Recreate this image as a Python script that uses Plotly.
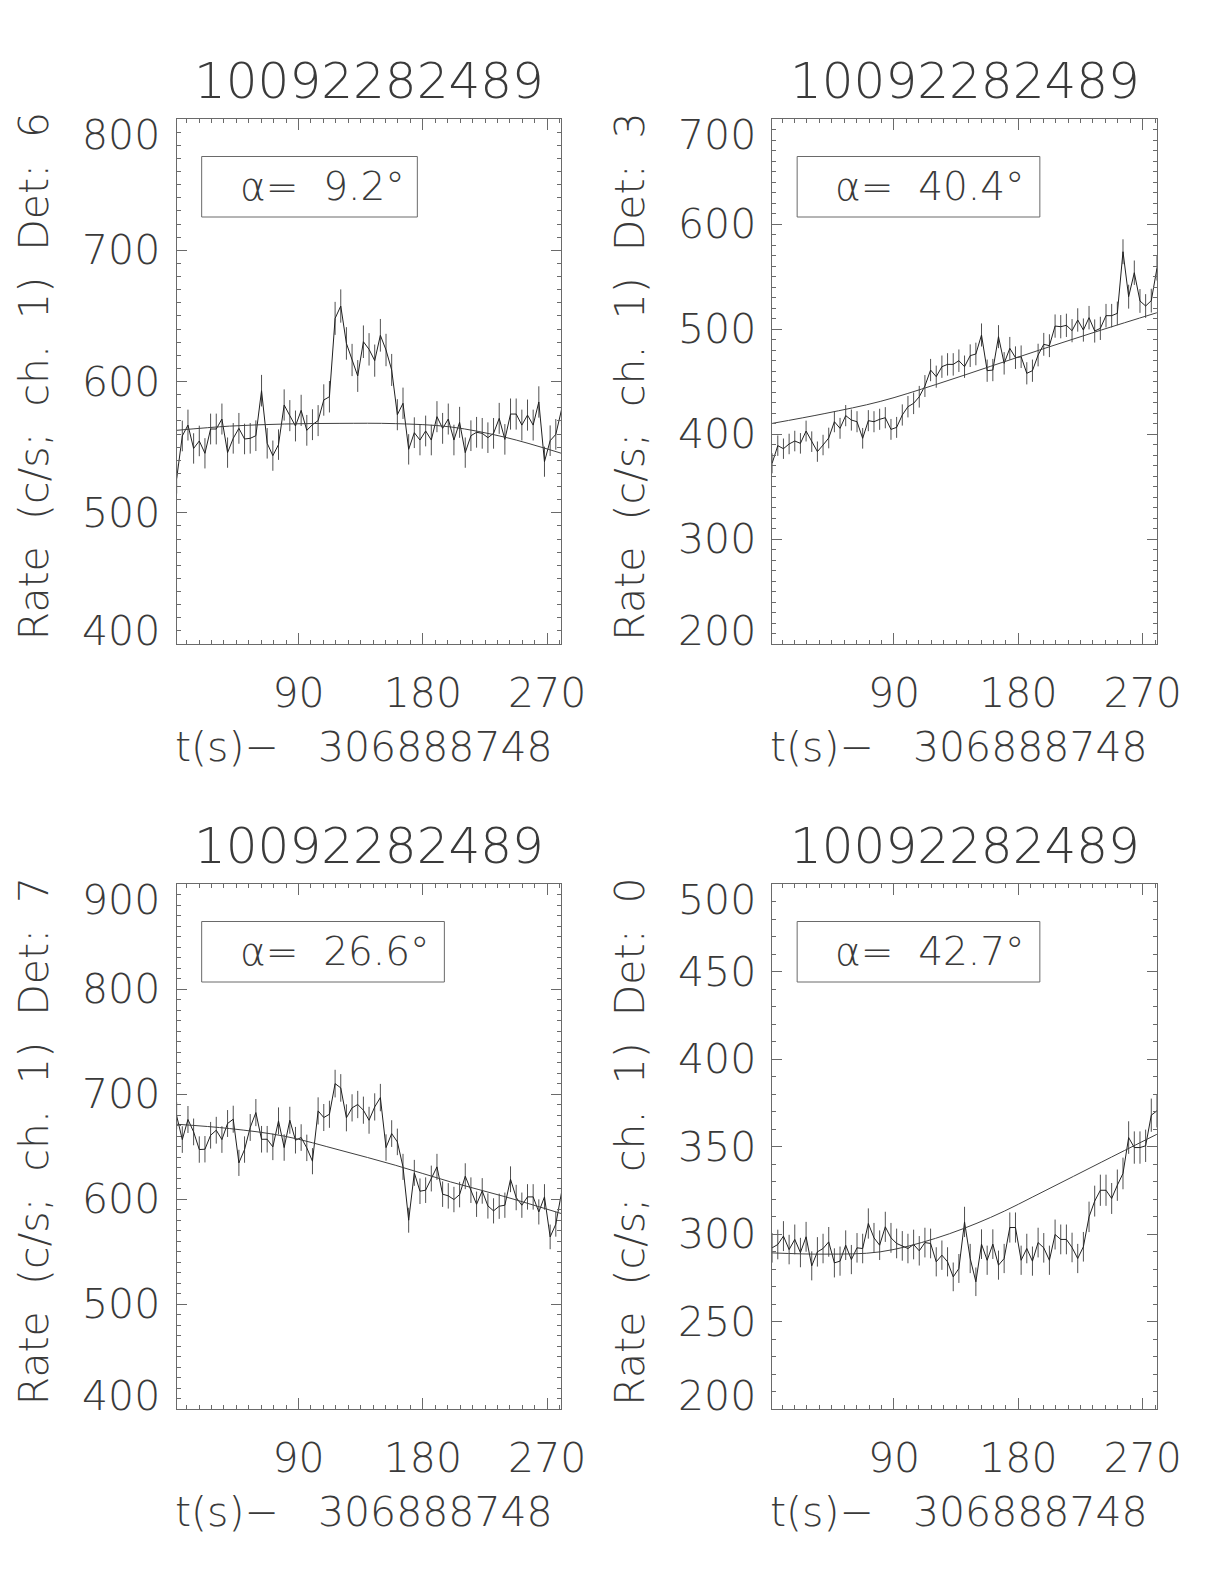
import numpy as np
import plotly.graph_objects as go
from plotly.subplots import make_subplots

# ---------------- data ----------------
TITLE = "10092282489"
X_LABEL = "t(s)\u2212\u00a0\u00a0\u00a0306888748"
BIN_WIDTH = 4.096          # s, light-curve bin
T_START = 1.8              # s, first bin centre (t - 306888748)
X_TICKS = [90, 180, 270]

detectors = [6, 3, 7, 0]
alphas = ["9.2", "40.4", "26.6", "42.7"]

rate_det6 = [526, 558.5, 566.8, 549, 554.7, 545.3, 563.8, 563.8, 571.4, 545.8,
             556.7, 564.3, 556.2, 556.7, 558.7, 593, 552.9, 543.5, 551.9, 582.1,
             574, 566.1, 578, 562.8, 567.1, 570.2, 585.9, 588.4, 648.1, 657.5,
             629, 616.4, 604.2, 630.3, 624.5, 615.9, 635.2, 624, 608.8, 574.7,
             583.4, 548.3, 561, 555.4, 562.3, 555.4, 573.2, 564.3, 571.4, 555.4,
             568.9, 545.8, 558.7, 561.3, 560.5, 557.2, 560.5, 571.9, 555.9, 575.2,
             575.2, 566.8, 574.4, 566.8, 584.4, 538.9, 554.9, 559.7, 578.3]

rate_det3 = [372.1, 388.9, 386, 390.5, 393.3, 391.1, 402.8, 392.7, 383.2, 389.5,
             396.2, 411.7, 405.4, 417.5, 413.3, 411.7, 395.9, 412.7, 411.7, 414,
             415.5, 404.4, 406.3, 418.1, 426, 429.2, 435.5, 445.7, 460.9, 454.6,
             464.1, 466.3, 466.3, 469.8, 464.1, 474.6, 476.2, 494.3, 460.3, 460.9,
             492.7, 467.3, 481.6, 472.7, 473.6, 457.8, 460.3, 475.2, 485.4, 484.1,
             502.8, 502.2, 503.5, 498.4, 508.6, 499, 510.8, 498.1, 500.6, 512.7,
             512.7, 514.9, 573.6, 530.8, 553.6, 526.7, 521.9, 527, 557.8]

rate_det7 = [679.2, 656.6, 675.7, 663.9, 647.1, 647.4, 660.7, 665.5, 656.6, 671.9,
             676, 634.4, 647.1, 668.1, 682.3, 656.9, 656.9, 649.6, 674.4, 649,
             675, 656, 658.5, 648.7, 636, 683.9, 677.6, 680.7, 709.9, 705.8,
             677.3, 686.8, 690, 684.6, 675, 687.7, 696.6, 649, 662.3, 654.4,
             630.6, 579.8, 624.9, 607.4, 608.4, 619.5, 630.6, 604.6, 603, 599.5,
             604.2, 621.7, 608.4, 595, 607.7, 593.4, 588.7, 593.1, 594.1, 618.8,
             601.4, 594.1, 602, 602, 587.7, 602, 563.9, 576, 605.8]

rate_det0 = [292.1, 294, 298.8, 291.1, 296.9, 289.4, 298.4, 281.8, 289.8, 291.7,
             295.5, 283.5, 284.5, 293.6, 285.4, 292.1, 291.7, 306, 297.8, 293.6,
             304.1, 297.8, 294.6, 293.2, 291.7, 294, 290.4, 295.1, 294.6, 284.1,
             287.9, 284.1, 275.5, 280.3, 306.9, 286, 272.7, 294.2, 285, 294.2,
             282.2, 286, 303.7, 303.7, 285, 291.7, 284.5, 295.1, 292.1, 285,
             299.7, 296.9, 296.9, 292.3, 286, 292.7, 309.8, 318.8, 325, 325,
             320.3, 327.9, 334.6, 355.1, 349.4, 349.4, 350.4, 367.9, 370.4]

# background fit, read at these times
fit_t = [1.8, 40, 80, 120, 160, 200, 240, 280.3]
fit_det6 = [562.8, 566.0, 567.6, 568.1, 567.9, 565.4, 557.4, 545.3]
fit_det3 = [410.1, 419.5, 431.0, 447.0, 464.5, 482.0, 499.0, 515.5]
fit_det7 = [671.2, 667.1, 659.8, 646.5, 632.2, 616.3, 602.0, 586.1]
fit_det0 = [289.2, 288.5, 289.8, 297.5, 309.5, 325.0, 341.0, 357.0]

y_ticks_det6 = [400, 500, 600, 700, 800]
y_ticks_det3 = [200, 300, 400, 500, 600, 700]
y_ticks_det7 = [400, 500, 600, 700, 800, 900]
y_ticks_det0 = [200, 250, 300, 350, 400, 450, 500]

rates = [rate_det6, rate_det3, rate_det7, rate_det0]
fits = [fit_det6, fit_det3, fit_det7, fit_det0]
yticks = [y_ticks_det6, y_ticks_det3, y_ticks_det7, y_ticks_det0]

# ---------------- style / layout ----------------
W_REF, H = 1224, 1584
W = 1250                     # page width that the capture maps onto 1224 px
SX = W / W_REF
FONT = "DejaVu Sans"
TXT = "#3a3a3a"
AX = "#6a6a6a"
col_left = [176.5, 771.5]    # in reference pixels
row_top = [119.0, 884.0]
PW, PH = 384.5, 525.0
box_right_px = [240.5, 267.5, 267.5, 267.5]
SP = "\u00a0\u00a0"

fig = make_subplots(rows=2, cols=2)

annotations = []
shapes = []
for k in range(4):
    r, c = divmod(k, 2)
    ax_id = "" if k == 0 else str(k + 1)
    xa, ya = "xaxis" + ax_id, "yaxis" + ax_id
    xr, yr = "x" + ax_id, "y" + ax_id

    n = len(rates[k])
    t = T_START + BIN_WIDTH * np.arange(n)
    rate = np.array(rates[k], dtype=float)
    err = np.sqrt(rate / BIN_WIDTH)   # Poisson errors of the binned rate

    fig.add_trace(go.Scatter(
        x=t, y=rate, mode="lines",
        line=dict(color="#202020", width=1),
        error_y=dict(type="data", array=err, width=0, thickness=1, color="#505050"),
        showlegend=False, hoverinfo="skip"), row=r + 1, col=c + 1)
    fig.add_trace(go.Scatter(
        x=fit_t, y=fits[k], mode="lines",
        line=dict(color="#404040", width=1, shape="spline", smoothing=1.0),
        showlegend=False, hoverinfo="skip"), row=r + 1, col=c + 1)

    x0 = col_left[c] / W_REF
    x1 = (col_left[c] + PW) / W_REF
    y1 = 1 - row_top[r] / H
    y0 = 1 - (row_top[r] + PH) / H
    yt = yticks[k]
    fig.layout[xa].update(
        domain=[x0, x1], range=[T_START, T_START + BIN_WIDTH * (n - 1)],
        tickmode="array", tickvals=X_TICKS, ticktext=[str(v) for v in X_TICKS],
        ticks="inside", ticklen=11, tickcolor=AX, tickwidth=1,
        minor=dict(ticks="inside", ticklen=4, tick0=0, dtick=9, tickcolor=AX, tickwidth=1),
        showline=True, linecolor=AX, linewidth=1, mirror="allticks",
        showgrid=False, zeroline=False,
        tickfont=dict(family=FONT, size=41, color=TXT, weight=200),
        ticklabelstandoff=13)
    fig.layout[ya].update(
        domain=[y0, y1], range=[yt[0], yt[-1]],
        tickmode="linear", tick0=0, dtick=yt[1] - yt[0],
        ticks="inside", ticklen=10 * SX, tickcolor=AX, tickwidth=1,
        minor=dict(ticks="inside", ticklen=4 * SX, tick0=0, dtick=10, tickcolor=AX, tickwidth=1),
        showline=True, linecolor=AX, linewidth=1, mirror="allticks",
        showgrid=False, zeroline=False, showticklabels=False)

    f41 = dict(family=FONT, size=41, color=TXT, weight=200)
    # y tick labels (IDL style: end labels kept inside the axis span)
    for j, v in enumerate(yt):
        if j == 0:
            ysh = 13
        elif j == len(yt) - 1:
            ysh = -16
        else:
            ysh = 0
        annotations.append(dict(
            x=0, y=v, xref=xr + " domain", yref=yr, text=str(v),
            xanchor="right", yanchor="middle", xshift=-14 * SX, yshift=ysh,
            showarrow=False, font=f41))
    # title
    annotations.append(dict(
        x=0.5, y=1, xref=xr + " domain", yref=yr + " domain", text=TITLE,
        xanchor="center", yanchor="middle", yshift=38, showarrow=False,
        font=dict(family=FONT, size=50, color=TXT, weight=200)))
    # x label
    annotations.append(dict(
        x=0.5, y=0, xref=xr + " domain", yref=yr + " domain", text=X_LABEL,
        xanchor="center", yanchor="middle", xshift=-5 * SX, yshift=-103,
        showarrow=False, font=f41))
    # y label
    annotations.append(dict(
        x=0, y=0.5, xref=xr + " domain", yref=yr + " domain",
        text=f"Rate{SP}(c/s;{SP}ch.{SP}1){SP}Det:{SP}{detectors[k]}",
        textangle=-90, xanchor="center", yanchor="middle", xshift=-140 * SX, yshift=5,
        showarrow=False, font=f41))
    # legend box
    shapes.append(dict(
        type="rect", xref=xr + " domain", yref=yr + " domain",
        x0=25 / PW, x1=box_right_px[k] / PW,
        y0=1 - 98 / PH, y1=1 - 37.5 / PH,
        line=dict(color=AX, width=1), fillcolor="rgba(0,0,0,0)"))
    annotations.append(dict(
        x=61 / PW, y=1 - 67.5 / PH, xref=xr + " domain", yref=yr + " domain",
        text=f"\u03b1=\u00a0\u00a0{alphas[k]}\u00b0",
        xanchor="left", yanchor="middle", showarrow=False,
        font=dict(family=FONT, size=39, color=TXT, weight=200)))

fig.update_layout(
    width=W, height=H, autosize=False,
    margin=dict(l=0, r=0, t=0, b=0),
    paper_bgcolor="white", plot_bgcolor="white",
    annotations=annotations, shapes=shapes, showlegend=False)

fig.write_html(
    "out.html",
    config={"displayModeBar": False},
    post_script=("document.documentElement.style.margin='0';"
                 "document.body.style.margin='0';"
                 "document.documentElement.style.overflow='hidden';"
                 "document.body.style.overflow='hidden';"))
